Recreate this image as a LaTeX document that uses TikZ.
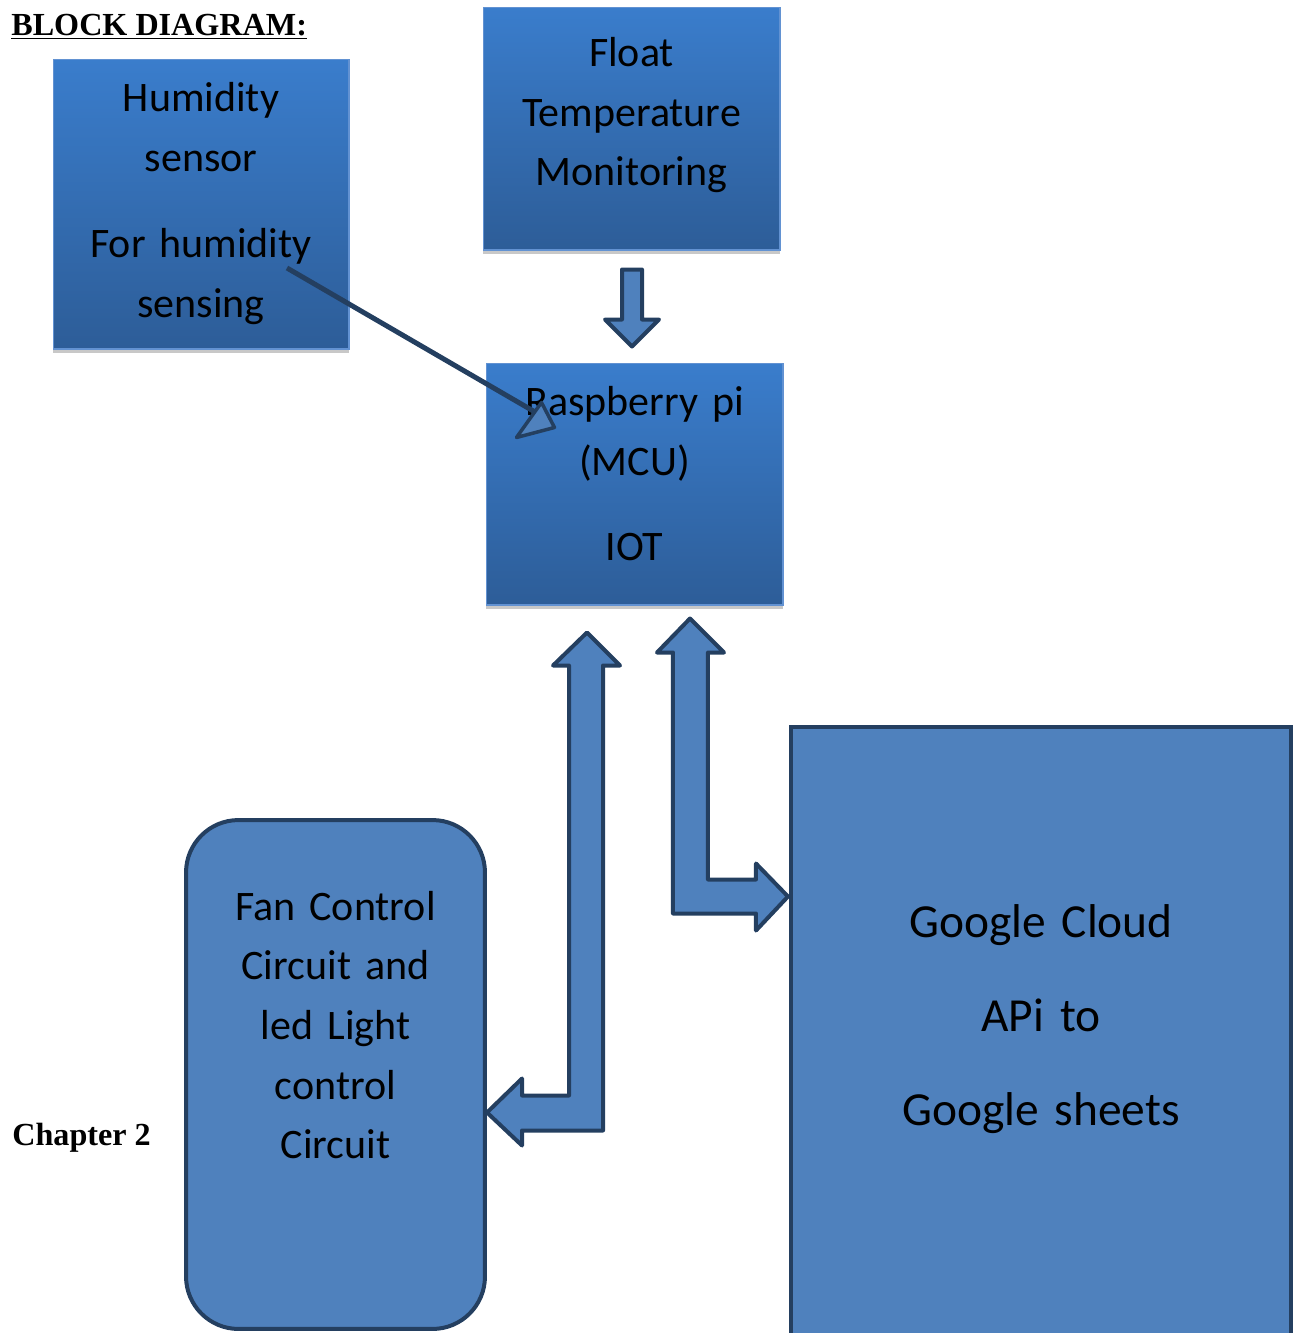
\documentclass[tikz,border=0pt]{standalone}
\usepackage{fontspec}
\setmainfont{Carlito}
\newfontfamily\timesfont{Liberation Serif}
\usetikzlibrary{positioning, calc, shadows}

\definecolor{gradtop}{RGB}{58,125,204}
\definecolor{gradbot}{RGB}{45,93,152}
\definecolor{gradedge}{RGB}{98,146,210}
\definecolor{accent}{RGB}{79,129,189}
\definecolor{navy}{RGB}{36,63,96}
\definecolor{shgray}{RGB}{200,200,200}

\tikzset{
  gradbox/.style={rectangle, draw=gradedge, line width=0.6pt, top color=gradtop, bottom color=gradbot, inner sep=0pt,
    drop shadow={shadow xshift=0cm, shadow yshift=-0.08cm, fill=shgray, opacity=1}},
  flatbox/.style={rectangle, draw=navy, line width=0.08cm, fill=accent, inner sep=0pt},
  lbl/.style={text width=5.6cm, align=center, inner sep=0pt, font=\fontsize{23.9}{34}\selectfont},
  biglbl/.style={lbl, text width=9cm, font=\fontsize{27}{53.6}\selectfont},
  ttl/.style={inner sep=0pt, font=\timesfont\bfseries\fontsize{18.3}{22}\selectfont},
  blockarrow/.style={draw=navy, line width=0.08cm, fill=accent, line join=round},
  thinarrow/.style={draw=navy, line width=0.1cm},
}

\begin{document}
\begin{tikzpicture}[x=0.02cm, y=-0.02cm]
  \useasboundingbox (0,0) rectangle (1295,1333);

  % blocks
  \node[gradbox, minimum width=5.92cm, minimum height=5.8cm] (hum) at (201,204) {};
  \node[gradbox, minimum width=5.94cm, minimum height=4.86cm] (flt) at (631.5,128.5) {};
  \node[gradbox, minimum width=5.94cm, minimum height=4.84cm] (rpi) at (634.5,484) {};
  \node[flatbox, rounded corners=1.05cm, minimum width=5.98cm, minimum height=10.18cm] (fan) at (335.5,1074.5) {};
  \node[flatbox, minimum width=10cm, minimum height=13.2cm] (gcl) at (1041,1057) {};

  % block texts
  \node[lbl, below=1.06cm of hum.north, anchor=base] (hum-t) {Humidity\\sensor\\[0.54cm]For humidity\\sensing};
  \node[lbl, below=1.2cm of flt.north, anchor=base] (flt-t) {Float\\Temperature\\Monitoring};
  \node[lbl, below=1.07cm of rpi.north, anchor=base] (rpi-t) {Raspberry pi\\(MCU)\\[0.5cm]IOT};
  \node[lbl, below=2.04cm of fan.north, anchor=base] (fan-t) {Fan Control\\Circuit and\\led Light\\control\\Circuit};
  \node[biglbl, below=4.24cm of gcl.north, anchor=base] (gcl-t) {Google Cloud\\APi to\\Google sheets};

  \node[ttl, anchor=base west] (title) at (11,35) {\underline{BLOCK DIAGRAM:}};
  \node[ttl, anchor=base west] (chap) at (12,1145) {Chapter 2};

  % float -> raspberry
  \coordinate (dtip) at ([xshift=-0.05cm, yshift=0.32cm]rpi.north);
  \draw[blockarrow] (dtip) -- ++(-27,-27) -- ++(17,0) -- ++(0,-50) -- ++(20,0) -- ++(0,50) -- ++(17,0) -- cycle;

  % raspberry <-> fan control
  \coordinate (atop) at ([xshift=-0.95cm, yshift=-0.54cm]rpi.south);
  \draw[blockarrow] (atop) -- ++(33,33) -- ++(-17,0) -- ++(0,465) -- ++(-81,0) -- ++(0,15)
    -- ++(-35,-33) -- ++(35,-34) -- ++(0,17) -- ++(47,0) -- ++(0,-430) -- ++(-16,0) -- cycle;

  % raspberry <-> google cloud
  \coordinate (btop) at ([xshift=1.11cm, yshift=-0.26cm]rpi.south);
  \draw[blockarrow] (btop) -- ++(34,34) -- ++(-16,0) -- ++(0,227) -- ++(48,0) -- ++(0,-16)
    -- ++(32,33) -- ++(-32,34) -- ++(0,-17) -- ++(-83,0) -- ++(0,-261) -- ++(-16,0) -- cycle;

  % humidity -> raspberry
  \coordinate (hs) at ([xshift=1.72cm, yshift=-1.28cm]hum.center);
  \coordinate (he) at ([xshift=1.18cm, yshift=-1.1cm]rpi.north west);
  \draw[thinarrow] (hs) -- (he);
  \draw[blockarrow, line width=0.07cm] (he) ++(-28,20) -- ++(38,-10) -- ++(-13,-25) -- cycle;
\end{tikzpicture}
\end{document}
